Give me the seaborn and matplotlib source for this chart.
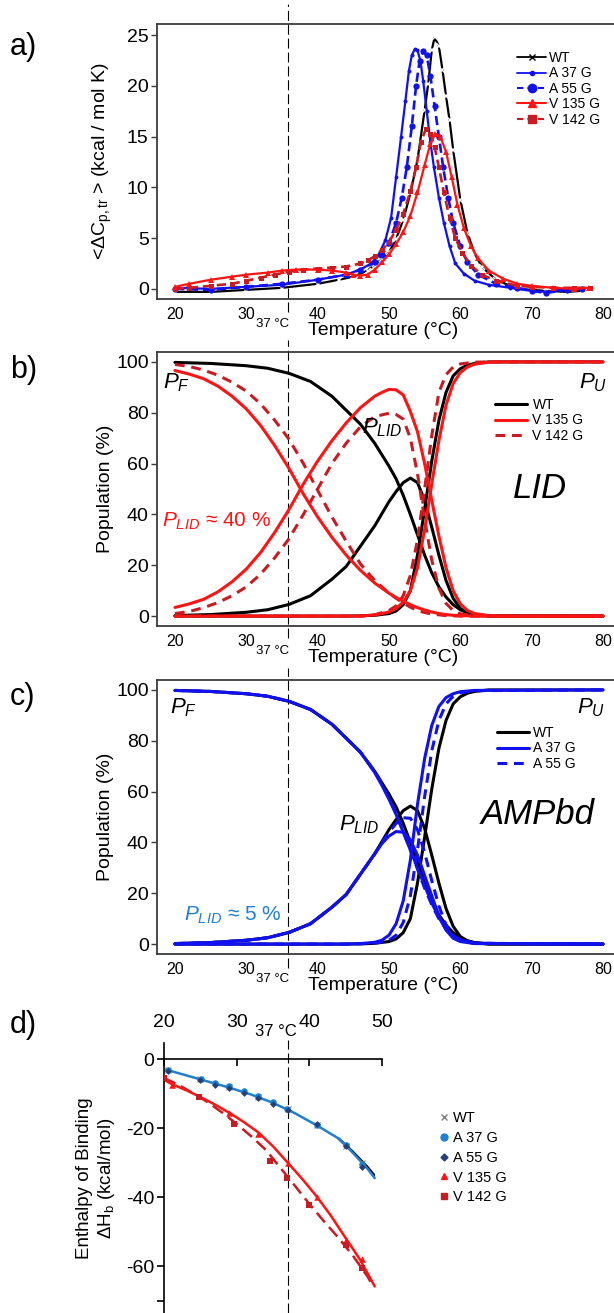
import matplotlib
matplotlib.use("Agg")
import matplotlib.pyplot as plt
from matplotlib.lines import Line2D
import seaborn as sns

# ---------------- datos ----------------
# a) DSC: <dCp,tr> (kcal / mol K)
t_wt = [20, 25, 30, 35, 40, 43, 45, 47, 48, 49, 50, 51, 52, 53, 54, 55, 55.5, 56, 56.4, 57, 57.5, 58, 58.5, 59, 60, 61, 62, 63, 65, 68, 70, 72, 75, 77]
cp_wt = [-0.3, -0.3, -0.1, 0.1, 0.5, 0.9, 1.2, 1.8, 2.4, 2.9, 3.6, 4.9, 6.8, 9.4, 12.7, 17.6, 20.2, 23.5, 24.8, 23.9, 21.6, 19.0, 16.6, 13.7, 8.8, 5.5, 3.5, 2.2, 0.9, 0.0, -0.1, -0.2, -0.3, -0.2]
t_a37 = [20, 25, 30, 35, 40, 44, 46, 47.5, 48.5, 49.5, 50.3, 51, 51.7, 52.3, 52.8, 53.2, 53.6, 54.0, 54.4, 54.8, 55.3, 55.8, 56.3, 57, 57.7, 58.5, 59.3, 60.5, 62, 64, 67, 70, 72, 74, 77]
cp_a37 = [0.1, 0.0, 0.2, 0.4, 0.9, 1.4, 1.9, 2.5, 3.3, 4.8, 7.0, 11.0, 15.0, 18.5, 21.5, 23.0, 23.6, 23.5, 22.5, 20.5, 17.5, 14.5, 12.0, 9.0, 6.5, 4.2, 2.5, 1.5, 0.8, 0.4, 0.1, -0.2, -0.3, -0.1, 0.0]
t_a55 = [20, 25, 30, 35, 40, 44, 46, 48, 49, 50, 51, 51.8, 52.5, 53.2, 53.8, 54.3, 54.8, 55.3, 55.8, 56.4, 57, 57.6, 58.3, 59, 60, 61, 62.5, 65, 68, 70, 72, 75, 77]
cp_a55 = [0.0, -0.1, 0.2, 0.5, 0.9, 1.4, 1.9, 2.6, 3.3, 4.5, 6.5, 9.0, 12.0, 16.0, 20.0, 22.5, 23.4, 23.0, 21.0, 18.0, 15.0, 12.0, 9.0, 6.5, 4.2, 2.6, 1.4, 0.5, 0.1, -0.2, -0.4, -0.1, 0.0]
t_v135 = [20, 22, 25, 28, 30, 33, 35, 37, 40, 42, 44, 45, 46, 47, 48, 49, 50, 51, 52, 53, 54, 55, 55.8, 56.5, 57.2, 58, 58.8, 59.6, 60.5, 61.5, 62.5, 64, 66, 68, 70, 73, 76, 78]
cp_v135 = [0.2, 0.5, 0.9, 1.2, 1.4, 1.6, 1.8, 1.9, 1.9, 1.8, 1.6, 1.4, 1.3, 1.4, 1.9, 2.6, 3.4, 4.4, 5.6, 7.2, 9.5, 12.2, 14.3, 15.3, 15.0, 13.5, 11.0, 8.3, 6.0, 4.2, 3.0, 1.8, 1.0, 0.5, 0.3, 0.1, 0.0, 0.1]
t_v142 = [20, 22, 25, 28, 30, 32, 34, 36, 38, 40, 42, 44, 46, 47, 48, 49, 50, 51, 52, 53, 53.8, 54.5, 55.2, 55.8, 56.4, 57, 57.7, 58.5, 59.3, 60.3, 61.5, 63, 65, 68, 70, 73, 76, 78.2]
cp_v142 = [0.0, 0.1, 0.3, 0.5, 0.8, 1.1, 1.4, 1.7, 1.9, 2.0, 2.1, 2.2, 2.5, 2.8, 3.2, 3.8, 4.6, 5.8, 7.4, 9.6, 12.0, 14.5, 15.8, 15.3, 14.0, 12.0, 9.5, 7.0, 5.0, 3.5, 2.3, 1.4, 0.8, 0.3, 0.2, 0.1, 0.1, 0.1]

# b) / c) poblaciones (%)
tp_wt = [20, 25, 30, 33, 36, 39, 42, 44, 46, 48, 50, 51, 52, 53, 54, 55, 56, 57, 58, 59, 60, 61, 62, 64, 80]
pf_wt = [99.8, 99.4, 98.5, 97.5, 95.5, 92.3, 86.5, 81, 75.5, 68, 59, 54, 47.5, 40, 32, 24, 17, 11.5, 7.5, 4.5, 2.5, 1.3, 0.6, 0.1, 0]
plid_wt = [0.2, 0.6, 1.5, 2.5, 4.6, 8, 14.5, 19.5, 27.5, 35.5, 45, 49, 52.5, 54.3, 52.5, 45.5, 35, 24, 14, 7, 3, 1.2, 0.5, 0, 0]
pu_wt = [0, 0, 0, 0, 0, 0, 0, 0, 0.1, 0.3, 1.0, 2.0, 4.5, 10, 24, 42, 61, 77, 88, 94.5, 97.3, 98.7, 99.4, 100, 100]

tp_v135 = [20, 22, 24, 26, 28, 30, 32, 34, 36, 38, 40, 42, 44, 46, 48, 49, 50, 51, 52, 53, 54, 55, 56, 57, 58, 59, 60, 61, 62, 64, 66, 70, 80]
pf_v135 = [96.6, 95.2, 93.4, 90.5, 86.5, 81.5, 75, 67, 58, 48, 39, 31, 24, 18, 13, 11, 9, 7.3, 5.8, 4.5, 3.3, 2.4, 1.6, 1.0, 0.6, 0.3, 0.2, 0.1, 0, 0, 0, 0, 0]
plid_v135 = [3.4, 4.8, 6.6, 9.5, 13.5, 18.5, 25, 33, 42, 52, 61, 69, 76, 82, 86.5, 88, 89.2, 89, 87, 80.5, 72.5, 60, 45.5, 31.5, 19, 10, 4.8, 2.2, 1.0, 0.2, 0, 0, 0]
pu_v135 = [0, 0, 0, 0, 0, 0, 0, 0, 0, 0, 0, 0, 0, 0, 0.5, 1.0, 1.6, 3.0, 5.5, 10, 19, 34, 52, 69, 83, 91.5, 95.8, 98, 99.1, 99.9, 100, 100, 100]

tp_v142 = [20, 22, 24, 26, 28, 30, 32, 34, 36, 38, 40, 42, 44, 46, 48, 50, 51, 52, 53, 54, 55, 56, 57, 58, 59, 60, 62, 64, 80]
pf_v142 = [99, 98.2, 96.8, 94.8, 92, 88.5, 83.5, 77, 69.5, 60, 49.5, 39, 29.5, 20.5, 14, 9, 7, 5.2, 3.5, 2.2, 1.4, 0.8, 0.5, 0.2, 0.1, 0, 0, 0, 0]
plid_v142 = [1, 1.8, 3.3, 5.3, 8, 11.5, 16.5, 23, 30.5, 40, 50, 60, 68, 74.5, 78.5, 79.8, 79.3, 77.5, 70, 56, 38, 22, 11, 5, 2.2, 0.9, 0.2, 0, 0]
pu_v142 = [0, 0, 0, 0, 0, 0, 0, 0, 0, 0, 0, 0, 0, 0, 0.5, 2.2, 4, 8, 16, 30, 50, 71, 88, 95, 98, 99.2, 99.9, 100, 100]

tp_a = [20, 25, 30, 33, 36, 39, 42, 44, 46, 48, 49, 50, 51, 52, 53, 54, 55, 56, 57, 58, 59, 60, 62, 80]
pf_a37 = [99.8, 99.4, 98.5, 97.5, 95.5, 92.3, 86.5, 81, 75.5, 67.5, 62.5, 57, 51, 44, 37, 30, 23, 16.2, 10.5, 6, 3.2, 1.6, 0.3, 0]
plid_a37 = [0.2, 0.6, 1.5, 2.5, 4.6, 8, 14.5, 19.5, 27.5, 35.5, 39.5, 42.5, 44.3, 44, 41, 35, 27, 19, 11, 5.5, 2.3, 1.0, 0.2, 0]
pu_a37 = [0, 0, 0, 0, 0, 0, 0, 0, 0.2, 0.7, 1.5, 3.5, 8, 17, 33, 55, 73, 86, 93.5, 97, 98.5, 99.3, 99.8, 100]
pf_a55 = [99.8, 99.4, 98.5, 97.5, 95.5, 92.3, 86.5, 81, 75.5, 67.8, 63, 57.5, 51.5, 44.5, 37, 29.5, 22, 15.5, 10, 6, 3.3, 1.7, 0.3, 0]
plid_a55 = [0.2, 0.6, 1.5, 2.5, 4.6, 8, 14.5, 19.5, 27.5, 35.5, 40, 44, 47.5, 49.7, 49.5, 45, 36, 25, 15, 7.5, 3.3, 1.4, 0.3, 0]
pu_a55 = [0, 0, 0, 0, 0, 0, 0, 0, 0.1, 0.4, 0.8, 1.5, 3.5, 8.5, 19, 37, 58, 76, 88, 94.5, 97.5, 98.9, 99.7, 100]

# d) entalpia de union (kcal/mol)
dt_wt = [20.5, 25, 29, 33, 37, 41, 45, 47.2]
dh_wt = [-3.3, -5.9, -8.1, -11.0, -14.6, -19.0, -25.2, -30.0]
dt_a37 = [20.5, 25.1, 27.0, 28.9, 31.0, 32.9, 35.0, 36.9, 41.0, 45.0, 47.2]
dh_a37 = [-3.1, -5.8, -6.9, -7.9, -9.4, -10.8, -12.6, -14.5, -19.2, -25.0, -30.5]
dt_a55 = [20.5, 25.0, 27.0, 29.0, 31.0, 33.0, 35.0, 37.0, 41.0, 45.0, 47.3]
dh_a55 = [-3.4, -6.1, -7.4, -8.5, -9.9, -11.4, -13.0, -14.8, -18.9, -25.3, -31.2]
dt_v135 = [21.1, 29.0, 33.0, 37.0, 41.0, 45.0, 47.3]
dh_v135 = [-7.4, -15.5, -21.8, -30.2, -40.0, -52.5, -58.0]
dt_v142 = [20.0, 24.8, 29.7, 34.6, 36.9, 39.9, 45.0, 47.2]
dh_v142 = [-5.5, -11.0, -18.8, -29.5, -34.5, -42.2, -53.8, -60.5]
# ajustes
ft_blue = [20.3, 23, 26, 29, 32, 35, 38, 41, 44, 46, 48, 49.0]
fh_blue = [-3.1, -4.7, -6.5, -8.3, -10.3, -12.7, -15.7, -19.2, -23.0, -27.2, -31.8, -34.5]
ft_wt = [44, 46, 48, 48.9]
fh_wt = [-23.0, -26.9, -31.3, -33.6]
ft_v135 = [20, 21, 23, 25, 27, 29, 31, 33, 35, 37, 39, 41, 43, 45, 47, 49]
fh_v135 = [-6, -7.2, -9.0, -11.0, -13.2, -15.6, -18.3, -21.3, -25.3, -30, -34.7, -39.8, -45.5, -51.9, -58.2, -65.9]
ft_v142 = [20, 22, 24, 26, 28, 30, 32, 34, 36, 38, 40, 42, 44, 46, 48, 48.8]
fh_v142 = [-5.5, -7.5, -9.9, -12.5, -15.5, -18.8, -22.4, -26.3, -31.5, -36.7, -42.0, -47.0, -51.8, -57.0, -63.0, -66.0]

T_REF_ABC = 35.8   # linea "37 °C" tal como aparece en a)-c)
T_REF_D = 37.0

# ---------------- estilo ----------------
sns.set_theme(style="white")
plt.rcParams["font.family"] = ["Liberation Sans", "DejaVu Sans"]
plt.rcParams["mathtext.fontset"] = "custom"
plt.rcParams["mathtext.rm"] = "Liberation Sans"
plt.rcParams["mathtext.it"] = "Liberation Sans:italic"
plt.rcParams["mathtext.sf"] = "Liberation Sans"
for k in ("text.color", "axes.labelcolor", "xtick.color", "ytick.color"):
    plt.rcParams[k] = "black"

BLUE = "#1010f0"
RED = "#ff1414"
DRED = "#c81c22"
LBLUE = "#1f80d2"
NAVY = "#22407a"
FRAME = "#3c3c3c"

W, H = 614, 1313
fig = plt.figure(figsize=(W / 100, H / 100), dpi=100)


def px_axes(left, top, right, bottom):
    return fig.add_axes([left / W, 1 - bottom / H, (right - left) / W, (bottom - top) / H])


def curve(ax, x, y, color, ls="-", lw=2.2, **kw):
    sns.lineplot(x=x, y=y, ax=ax, color=color, linestyle=ls, linewidth=lw,
                 estimator=None, sort=False, **kw)


def frame(ax, ylim, yticks):
    ax.set_xlim(17.48, 81.83)
    ax.set_ylim(*ylim)
    ax.set_xticks([20, 30, 40, 50, 60, 70, 80])
    ax.set_yticks(yticks)
    for s in ax.spines.values():
        s.set_color(FRAME)
        s.set_linewidth(1.3)
    ax.tick_params(axis="y", direction="out", length=4, width=1, color=FRAME, labelsize=14, pad=2, left=True)
    ax.tick_params(axis="x", length=0, labelsize=11.5, pad=6)
    ax.set_xlabel("Temperature (°C)", fontsize=14)
    ax.xaxis.set_label_coords(0.492, -0.085)


def ref_line(ax, x, ymin, ymax):
    ax.axvline(x, ymin=ymin, ymax=ymax, color="black", lw=0.8,
               ls=(0, (9, 3.5)), clip_on=False, zorder=0)


def fig_text(x, y, s, **kw):
    fig.text(x / W, 1 - y / H, s, **kw)


# ---------------- a) ----------------
ax = px_axes(157, 24, 616, 299)
curve(ax, t_wt, cp_wt, "black", lw=1.6, marker="x", markersize=4, markeredgewidth=1.1)
curve(ax, t_a55, cp_a55, BLUE, ls=(0, (3.5, 1.8)), lw=1.9, marker="o", markersize=4.5, markeredgewidth=0)
curve(ax, t_a37, cp_a37, BLUE, lw=1.6, marker="o", markersize=2.8, markeredgewidth=0)
curve(ax, t_v142, cp_v142, DRED, ls=(0, (3.5, 1.8)), lw=1.9, marker="s", markersize=3.6, markeredgewidth=0)
curve(ax, t_v135, cp_v135, RED, lw=1.6, marker="^", markersize=4, markeredgewidth=0)
frame(ax, (-1.0, 26.1), [0, 5, 10, 15, 20, 25])
ax.set_ylabel(r"<$\Delta$C$_{\rm p,tr}$ > (kcal / mol K)", fontsize=14)
ax.yaxis.set_label_coords(-0.094, 0.5)
ref_line(ax, T_REF_ABC, -0.047, 1.073)
h_a = [Line2D([], [], color="black", lw=1.3, marker="x", markersize=5),
       Line2D([], [], color=BLUE, lw=1.3, marker="o", markersize=3),
       Line2D([], [], color=BLUE, lw=1.5, ls=(0, (3, 2)), marker="o", markersize=6),
       Line2D([], [], color=RED, lw=1.5, marker="^", markersize=6),
       Line2D([], [], color=DRED, lw=1.5, ls=(0, (3, 2)), marker="s", markersize=5.5)]
ax.legend(h_a, ["WT", "A 37 G", "A 55 G", "V 135 G", "V 142 G"], loc="upper left",
          bbox_to_anchor=(517 / W, 1 - 51 / H), bbox_transform=fig.transFigure,
          frameon=False, fontsize=10, handlelength=2.1, handletextpad=0.2,
          labelspacing=0.1, borderpad=0, borderaxespad=0)

# ---------------- b) ----------------
ax = px_axes(157, 352, 616, 626)
for pf, pl, pu, col, ls, tt in [(pf_wt, plid_wt, pu_wt, "black", "-", tp_wt),
                                (pf_v142, plid_v142, pu_v142, DRED, (0, (3.2, 2.2)), tp_v142),
                                (pf_v135, plid_v135, pu_v135, RED, "-", tp_v135)]:
    for yy in (pf, pl, pu):
        curve(ax, tt, yy, col, ls=ls, lw=2.2)
frame(ax, (-3.9, 103.9), [0, 20, 40, 60, 80, 100])
ax.set_ylabel("Population (%)", fontsize=14)
ax.yaxis.set_label_coords(-0.094, 0.5)
ref_line(ax, T_REF_ABC, -0.044, 1.044)
ax.text(18.3, 91.7, r"$P_F$", fontsize=16, va="center", ha="left")
ax.text(76.6, 91.7, r"$P_U$", fontsize=16, va="center", ha="left")
ax.text(46.2, 74, r"$P_{LID}$", fontsize=16, va="center", ha="left")
ax.text(71.2, 50, "LID", fontsize=25, style="italic", va="center", ha="center")
ax.text(18.2, 37.4, r"$P_{LID}$ ≈ 40 %", fontsize=15, color=RED, va="center", ha="left")
h_b = [Line2D([], [], color="black", lw=2.2),
       Line2D([], [], color=RED, lw=2.2),
       Line2D([], [], color=DRED, lw=2.2, ls=(0, (3.2, 2.2)))]
ax.legend(h_b, ["WT", "V 135 G", "V 142 G"], loc="upper left",
          bbox_to_anchor=(495 / W, 1 - 398 / H), bbox_transform=fig.transFigure,
          frameon=False, fontsize=10, handlelength=2.3, handletextpad=0.4,
          labelspacing=0.1, borderpad=0, borderaxespad=0)

# ---------------- c) ----------------
ax = px_axes(157, 680, 616, 954)
for pf, pl, pu, col, ls, tt in [(pf_wt, plid_wt, pu_wt, "black", "-", tp_wt),
                                (pf_a55, plid_a55, pu_a55, BLUE, (0, (3.2, 2.2)), tp_a),
                                (pf_a37, plid_a37, pu_a37, BLUE, "-", tp_a)]:
    for yy in (pf, pl, pu):
        curve(ax, tt, yy, col, ls=ls, lw=2.2)
frame(ax, (-3.9, 103.9), [0, 20, 40, 60, 80, 100])
ax.set_ylabel("Population (%)", fontsize=14)
ax.yaxis.set_label_coords(-0.094, 0.5)
ref_line(ax, T_REF_ABC, -0.051, 1.044)
ax.text(19.3, 93, r"$P_F$", fontsize=16, va="center", ha="left")
ax.text(76.4, 93, r"$P_U$", fontsize=16, va="center", ha="left")
ax.text(43.0, 46.9, r"$P_{LID}$", fontsize=16, va="center", ha="left")
ax.text(70.8, 50.8, "AMPbd", fontsize=25, style="italic", va="center", ha="center")
ax.text(21.3, 11.4, r"$P_{LID}$ ≈ 5 %", fontsize=15, color=LBLUE, va="center", ha="left")
h_c = [Line2D([], [], color="black", lw=2.2),
       Line2D([], [], color=BLUE, lw=2.2),
       Line2D([], [], color=BLUE, lw=2.2, ls=(0, (3.2, 2.2)))]
ax.legend(h_c, ["WT", "A 37 G", "A 55 G"], loc="upper left",
          bbox_to_anchor=(497 / W, 1 - 726 / H), bbox_transform=fig.transFigure,
          frameon=False, fontsize=10, handlelength=2.3, handletextpad=0.3,
          labelspacing=0.1, borderpad=0, borderaxespad=0)

# ---------------- d) ----------------
ax = px_axes(164, 1043, 382, 1313)
curve(ax, ft_wt, fh_wt, "black", lw=1.8)
curve(ax, ft_blue, fh_blue, LBLUE, lw=1.8)
curve(ax, ft_v142, fh_v142, DRED, ls=(0, (5, 2.5)), lw=1.8)
curve(ax, ft_v135, fh_v135, RED, lw=1.8)
sns.scatterplot(x=dt_wt, y=dh_wt, ax=ax, color="grey", marker="x", s=18, linewidth=0.8, zorder=3)
sns.scatterplot(x=dt_a37, y=dh_a37, ax=ax, color=LBLUE, marker="o", s=22, linewidth=0, zorder=3)
sns.scatterplot(x=dt_a55, y=dh_a55, ax=ax, color=NAVY, marker="D", s=12, linewidth=0, zorder=3)
sns.scatterplot(x=dt_v135, y=dh_v135, ax=ax, color=RED, marker="^", s=22, linewidth=0, zorder=3)
sns.scatterplot(x=dt_v142, y=dh_v142, ax=ax, color=DRED, marker="s", s=22, linewidth=0, zorder=3)
ax.set_xlim(20, 50)
ax.set_ylim(-73.6, 4.64)
ax.spines["right"].set_visible(False)
ax.spines["bottom"].set_visible(False)
ax.spines["top"].set_position(("data", 0))
for s in ("left", "top"):
    ax.spines[s].set_color("black")
    ax.spines[s].set_linewidth(1.2)
ax.xaxis.tick_top()
ax.set_xticks([20, 30, 40, 50])
ax.set_yticks([0, -20, -40, -60, -70])
ax.set_yticklabels(["0", "-20", "-40", "-60", ""])
ax.tick_params(axis="x", direction="in", length=5, width=1.2, labelsize=14, pad=20, top=True)
ax.tick_params(axis="y", direction="out", length=5, width=1.2, labelsize=14, pad=2, left=True)
ax.set_ylabel("Enthalpy of Binding\n" + r"$\Delta$H$_{\rm b}$ (kcal/mol)", fontsize=13.5)
ax.yaxis.set_label_coords(-0.216, 0.5)
ax.set_xlabel("")
ref_line(ax, T_REF_D, 0, 1.011)
h_d = [Line2D([], [], ls="", color="grey", marker="x", markersize=4.5),
       Line2D([], [], ls="", color=LBLUE, marker="o", markersize=5),
       Line2D([], [], ls="", color=NAVY, marker="D", markersize=3.5),
       Line2D([], [], ls="", color=RED, marker="^", markersize=5),
       Line2D([], [], ls="", color=DRED, marker="s", markersize=5)]
ax.legend(h_d, ["WT", "A 37 G", "A 55 G", "V 135 G", "V 142 G"], loc="upper left",
          bbox_to_anchor=(440 / W, 1 - 1111 / H), bbox_transform=fig.transFigure,
          frameon=False, fontsize=10.5, handlelength=0.6, handletextpad=0.3,
          labelspacing=0.4, borderpad=0, borderaxespad=0)

# ---------------- textos de figura ----------------
fig_text(10, 47, "a)", fontsize=22, va="center")
fig_text(10, 370, "b)", fontsize=22, va="center")
fig_text(10, 697, "c)", fontsize=22, va="center")
fig_text(10, 1025, "d)", fontsize=22, va="center")
for y in (324, 651, 979):
    fig_text(273, y, "37 °C", fontsize=9.5, ha="center", va="center")
fig_text(276, 1032, "37 °C", fontsize=12, ha="center", va="center")

fig.savefig("out.png", dpi=100)
